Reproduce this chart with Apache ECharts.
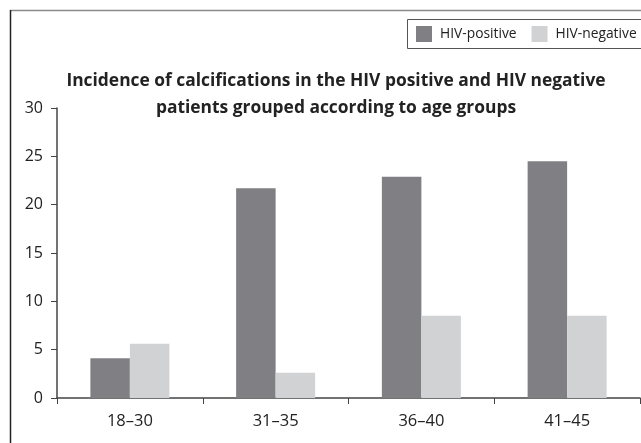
<!DOCTYPE html>
<html>
<head>
<meta charset="utf-8">
<script src="https://cdn.jsdelivr.net/npm/echarts@6/dist/echarts.min.js"></script>
<style>html,body{margin:0;padding:0;background:#fff}#c{width:641px;height:443px}</style>
</head>
<body>
<div id="c"></div>
<script>
var categories = ['18–30', '31–35', '36–40', '41–45'];
var hivPositive = [4.1, 21.7, 22.9, 24.5];
var hivNegative = [5.6, 2.6, 8.5, 8.5];
var yTicks = [0, 5, 10, 15, 20, 25, 30];
var titleText = 'Incidence of calcifications in the HIV positive and HIV negative\npatients grouped according to age groups';

var FONT = 'Open Sans';
var chart = echarts.init(document.getElementById('c'));
chart.setOption({
  animation: false,
  backgroundColor: '#fff',
  graphic: [
    { type: 'line', shape: { x1: 10, y1: 10.5, x2: 641, y2: 10.5 }, style: { stroke: '#8a8a8a', lineWidth: 1.5 } },
    { type: 'line', shape: { x1: 10.5, y1: 10, x2: 10.5, y2: 443 }, style: { stroke: '#222', lineWidth: 1.5 } },
    { type: 'rect', shape: { x: 407.5, y: 19.5, width: 260, height: 29 }, style: { fill: 'none', stroke: '#555', lineWidth: 1 } }
  ],
  title: {
    text: titleText,
    left: 331, top: 63, textAlign: 'center',
    textStyle: { fontFamily: FONT, fontWeight: 'bold', fontSize: 17.4, color: '#222', lineHeight: 27 }
  },
  legend: {
    left: 416, top: 26, width: 260,
    padding: 0,
    itemWidth: 16, itemHeight: 16, itemGap: 15,
    icon: 'rect',
    textStyle: { fontFamily: FONT, fontSize: 13.8, color: '#222', padding: [0, 0, 0, 3] },
    data: ['HIV-positive', 'HIV-negative']
  },
  grid: { left: 57, right: 1, top: 108, bottom: 45, containLabel: false },
  xAxis: {
    type: 'category', data: categories,
    axisLine: { lineStyle: { color: '#444', width: 1.5 } },
    axisTick: { show: true, length: 6, lineStyle: { color: '#444' }, alignWithLabel: false },
    axisLabel: { fontFamily: FONT, fontSize: 16.5, color: '#222', margin: 15 }
  },
  yAxis: {
    type: 'value', min: 0, max: 30, interval: 5,
    axisLine: { show: true, lineStyle: { color: '#444', width: 1.5 } },
    axisTick: { show: true, length: 6, lineStyle: { color: '#444' } },
    splitLine: { show: false },
    axisLabel: { fontFamily: FONT, fontSize: 16, color: '#222', margin: 14,
      formatter: function (v) { return yTicks.indexOf(v) >= 0 ? String(v) : ''; } }
  },
  series: [
    { name: 'HIV-positive', type: 'bar', data: hivPositive, barWidth: 39.5, barGap: '0%', itemStyle: { color: '#808084' } },
    { name: 'HIV-negative', type: 'bar', data: hivNegative, barWidth: 39.5, barGap: '0%', itemStyle: { color: '#d1d2d4' } }
  ]
});
</script>
</body>
</html>
